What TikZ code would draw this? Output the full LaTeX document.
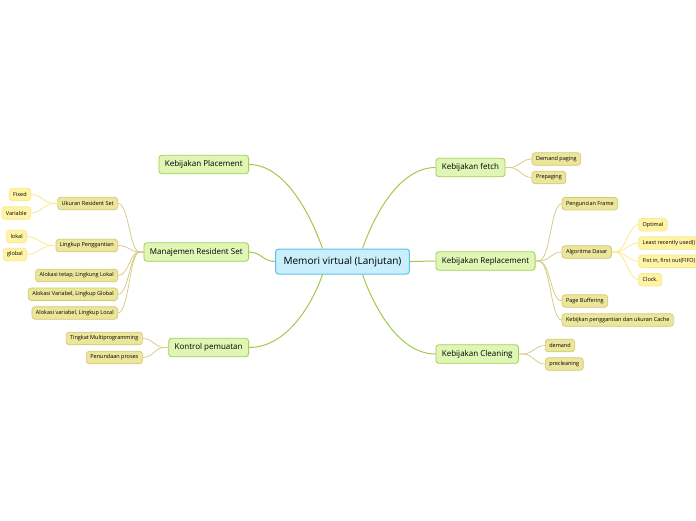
\documentclass[tikz,border=0pt]{standalone}
\usepackage{fontspec}
\setmainfont{Open Sans}
\usepackage{xcolor}
\usetikzlibrary{positioning, calc}

\definecolor{rootfill}{HTML}{C9EEFC}
\definecolor{rootline}{HTML}{5CC2EE}
\definecolor{topicfill}{HTML}{DFF6B4}
\definecolor{topicline}{HTML}{A6CF55}
\definecolor{subfill}{HTML}{ECE59C}
\definecolor{subline}{HTML}{D3C972}
\definecolor{leaffill}{HTML}{FFF4A6}
\definecolor{leafline}{HTML}{F8E98C}
\definecolor{mainedge}{HTML}{A3C94C}
\definecolor{subedge}{HTML}{D4CC82}
\definecolor{leafedge}{HTML}{FBE98A}

\begin{document}
\begin{tikzpicture}[
    x=1pt, y=-1pt,
    every node/.style={inner sep=0pt, rounded corners=3pt, align=center},
    rootbox/.style={draw=rootline, fill=rootfill, line width=1pt, inner xsep=8pt, minimum height=25pt, font=\fontsize{10}{12}\selectfont},
    topic/.style={draw=topicline, fill=topicfill, line width=0.8pt, inner xsep=6pt, minimum height=18.5pt, font=\fontsize{8}{9}\selectfont},
    sub/.style={draw=subline, fill=subfill, line width=0.7pt, inner xsep=4pt, minimum height=12.5pt, font=\fontsize{5.5}{6}\selectfont},
    leaf/.style={draw=leafline, fill=leaffill, line width=0.7pt, inner xsep=4pt, minimum height=12.5pt, font=\fontsize{5.5}{6}\selectfont},
    mainlink/.style={draw=mainedge, line width=1pt},
    sublink/.style={draw=subedge, line width=0.75pt},
    leaflink/.style={draw=leafedge, line width=0.75pt}
]
\fill[white] (0,0) rectangle (696,520);
\useasboundingbox (0,0) rectangle (696,520);

% centre and main topics
\node[rootbox] (root) at (342.5,261.5) {Memori virtual (Lanjutan)};
\node[topic, anchor=east] (place) at (249,164.5) {Kebijakan Placement};
\node[topic, anchor=east] (resident) at (249,252) {Manajemen Resident Set};
\node[topic, anchor=east] (load) at (249,347.5) {Kontrol pemuatan};
\node[topic, anchor=west] (fetch) at (435.5,167.5) {Kebijakan fetch};
\node[topic, anchor=west] (replace) at (435.5,261) {Kebijakan Replacement};
\node[topic, anchor=west] (clean) at (435.5,354) {Kebijakan Cleaning};

% left branches
\node[sub, anchor=east] (ukuran) at (118,203.5) {Ukuran Resident Set};
\node[sub, anchor=east] (lingkup) at (118,245.5) {Lingkup Penggantian};
\node[sub, anchor=east] (tetap) at (118,275.5) {Alokasi tetap, Lingkung Lokal};
\node[sub, anchor=east] (varglobal) at (118,294.3) {Alokasi Variabel, Lingkup Global};
\node[sub, anchor=east] (varlocal) at (118,313) {Alokasi variabel, Lingkup Local};
\node[leaf, anchor=east] (fixed) at (31,194.5) {Fixed};
\node[leaf, anchor=east] (variable) at (31,213) {Variable};
\node[leaf, anchor=east] (lokal) at (27,236.5) {lokal};
\node[leaf, anchor=east] (global) at (27,254.5) {global};
\node[sub, anchor=east] (tingkat) at (142.7,338.5) {Tingkat Multiprogramming};
\node[sub, anchor=east] (tunda) at (142.7,357.5) {Penundaan proses};

% right branches
\node[sub, anchor=west] (demandpg) at (531.7,159) {Demand paging};
\node[sub, anchor=west] (prepaging) at (531.7,177.5) {Prepaging};
\node[sub, anchor=west] (kunci) at (561.7,203.7) {Penguncian Frame};
\node[sub, anchor=west] (algo) at (561.7,252) {Algoritma Dasar};
\node[sub, anchor=west] (buffer) at (561.7,301) {Page Buffering};
\node[sub, anchor=west] (cache) at (561.7,320) {Kebijkan penggantian dan ukuran Cache};
\node[leaf, anchor=west] (optimal) at (638.3,224.7) {Optimal};
\node[leaf, anchor=west] (lru) at (638.3,243) {Least recently used()};
\node[leaf, anchor=west] (fifo) at (638.3,261.3) {Fist in, first out(FIFO)};
\node[leaf, anchor=west] (clock) at (638.3,279.7) {Clock.};
\node[sub, anchor=west] (demand) at (545,345.5) {demand};
\node[sub, anchor=west] (preclean) at (545,364) {precleaning};

% links from the centre
\draw[mainlink] ([xshift=-20]root.north) .. controls +(-12,-34) and +(36,0) .. (place.east);
\draw[mainlink] (root.west) .. controls +(-12,0) and +(12,0) .. (resident.east);
\draw[mainlink] ([xshift=-20]root.south) .. controls +(-12,34) and +(36,0) .. (load.east);
\draw[mainlink] ([xshift=20]root.north) .. controls +(12,-34) and +(-36,0) .. (fetch.west);
\draw[mainlink] (root.east) -- (replace.west);
\draw[mainlink] ([xshift=20]root.south) .. controls +(12,34) and +(-36,0) .. (clean.west);

% links to the branches
\foreach \c in {ukuran, lingkup, tetap, varglobal, varlocal}
    \draw[sublink] (resident.west) -- ++(-4,0) .. controls +(-10,0) and +(11,0) .. (\c.east);
\foreach \c in {tingkat, tunda}
    \draw[sublink] (load.west) -- ++(-4,0) .. controls +(-10,0) and +(11,0) .. (\c.east);
\foreach \c in {demandpg, prepaging}
    \draw[sublink] (fetch.east) -- ++(4,0) .. controls +(10,0) and +(-10,0) .. (\c.west);
\foreach \c in {kunci, algo, buffer, cache}
    \draw[sublink] (replace.east) -- ++(3,0) .. controls +(12,0) and +(-11,0) .. (\c.west);
\foreach \c in {demand, preclean}
    \draw[sublink] (clean.east) -- ++(4,0) .. controls +(10,0) and +(-10,0) .. (\c.west);
\foreach \c in {fixed, variable}
    \draw[leaflink] (ukuran.west) -- ++(-3,0) .. controls +(-10,0) and +(10,0) .. (\c.east);
\foreach \c in {lokal, global}
    \draw[leaflink] (lingkup.west) -- ++(-3,0) .. controls +(-10,0) and +(10,0) .. (\c.east);
\foreach \c in {optimal, lru, fifo, clock}
    \draw[leaflink] (algo.east) -- ++(4,0) .. controls +(9,0) and +(-9,0) .. (\c.west);

\end{tikzpicture}
\end{document}
